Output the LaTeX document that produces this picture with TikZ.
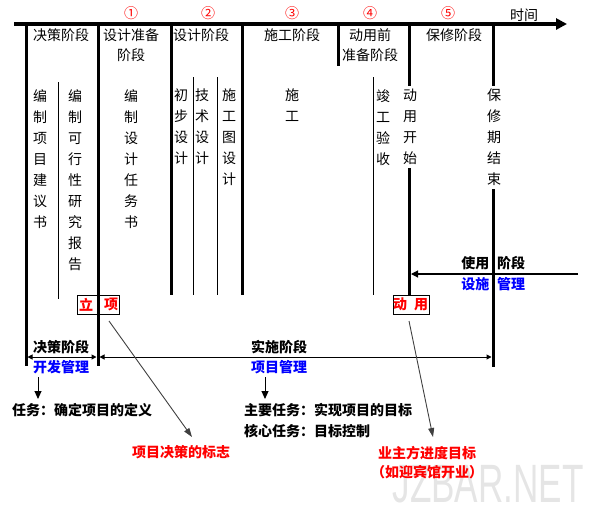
\documentclass[tikz,border=0pt]{standalone}
\usepackage{fontspec}
\setmainfont{Noto Sans CJK SC}
\newfontfamily\wmfont{Liberation Sans}
\usetikzlibrary{arrows.meta}
\definecolor{myred}{RGB}{255,0,0}
\definecolor{myblue}{RGB}{0,0,255}
\begin{document}
\begin{tikzpicture}[x=1pt,y=-1pt,
  thickline/.style={line width=3pt},
  thinline/.style={line width=1pt},
  hdr/.style={font=\fontsize{14}{20}\selectfont, inner sep=0pt, align=center},
  vtxt/.style={font=\fontsize{14}{21}\selectfont, inner sep=0pt, align=center, anchor=north},
  num/.style={text=myred, font=\fontsize{14}{14}\selectfont, inner sep=0pt},
  lbl/.style={font=\fontsize{14}{20}\selectfont\bfseries, inner sep=0pt},
  bluelbl/.style={lbl, text=myblue},
  redlbl/.style={lbl, text=myred},
  boxnode/.style={draw, line width=1pt, fill=white, inner sep=0pt, minimum height=19pt},
  dimarrow/.style={line width=1pt, {Triangle[length=5pt,width=5pt]}-{Triangle[length=5pt,width=5pt]}},
  downarrow/.style={line width=1pt, -{Triangle[length=8pt,width=7pt]}},
  diagarrow/.style={line width=0.9pt, draw=black!75, -{Triangle[length=9pt,width=6pt]}}
]
\useasboundingbox (0,0) rectangle (599,509);

% watermark
\node[text=black!10, font=\wmfont\fontsize{54}{54}\selectfont, xscale=0.65, inner sep=0pt] (wm) at (488,484) {JZBAR.NET};

% timeline
\coordinate (tl) at (14,24);
\coordinate (tr) at (567,24);
\draw[line width=3.5pt, -{Triangle[length=11pt,width=11pt]}] (tl) -- (tr);
\node[hdr] (time) at (524,15) {时间};

% circled numbers
\node[num] (n1) at (131,13) {①};
\node[num] (n2) at (208,13) {②};
\node[num] (n3) at (292,13) {③};
\node[num] (n4) at (370,13) {④};
\node[num] (n5) at (448,13) {⑤};

% boxes (drawn before lines)
\node[boxnode, minimum width=42pt] (lx) at (98,304.5) {};
\node[redlbl] (lx1) at (86,304.5) {立};
\node[redlbl] (lx2) at (111,304.5) {项};
\node[boxnode, minimum width=36pt] (dy) at (411,304.5) {};
\node[redlbl] (dy1) at (400,304.5) {动};
\node[redlbl] (dy2) at (421,304.5) {用};

% thick verticals
\coordinate (v1a) at (26,24);  \coordinate (v1b) at (26,366);
\coordinate (v2a) at (98,24);  \coordinate (v2b) at (98,366);
\coordinate (v3a) at (171,24); \coordinate (v3b) at (171,295);
\coordinate (v4a) at (242,24); \coordinate (v4b) at (242,295);
\coordinate (v5a) at (338,24); \coordinate (v5b) at (338,66);
\coordinate (v6a) at (409.5,24); \coordinate (v6b) at (409.5,295);
\coordinate (v7a) at (493,24); \coordinate (v7b) at (493,367);
\foreach \a/\b in {v1a/v1b,v2a/v2b,v3a/v3b,v4a/v4b,v5a/v5b,v6a/v6b,v7a/v7b}
  \draw[thickline] (\a) -- (\b);

% thin verticals
\coordinate (t1a) at (58,82);  \coordinate (t1b) at (58,299);
\coordinate (t2a) at (193,77); \coordinate (t2b) at (193,295);
\coordinate (t3a) at (217,77); \coordinate (t3b) at (217,295);
\coordinate (t4a) at (373,77); \coordinate (t4b) at (373,295);
\foreach \a/\b in {t1a/t1b,t2a/t2b,t3a/t3b,t4a/t4b}
  \draw[thinline] (\a) -- (\b);

% header texts
\node[hdr] (h1) at (61,35) {决策阶段};
\node[hdr] (h2) at (131,45) {设计准备\\阶段};
\node[hdr] (h3) at (201,35) {设计阶段};
\node[hdr] (h4) at (292,35) {施工阶段};
\node[hdr] (h5) at (370,45.5) {动用前\\准备阶段};
\node[hdr] (h6) at (454,35) {保修阶段};

% vertical texts
\node[vtxt] (c1) at (40,89) {编\\制\\项\\目\\建\\议\\书};
\node[vtxt] (c2) at (75,89) {编\\制\\可\\行\\性\\研\\究\\报\\告};
\node[vtxt] (c3) at (131,89) {编\\制\\设\\计\\任\\务\\书};
\node[vtxt] (c4) at (181,89) {初\\步\\设\\计};
\node[vtxt] (c5) at (202,89) {技\\术\\设\\计};
\node[vtxt] (c6) at (229,89) {施\\工\\图\\设\\计};
\node[vtxt] (c7) at (292,89) {施\\工};
\node[vtxt] (c8) at (383,89) {竣\\工\\验\\收};
\node[vtxt, fill=white, inner ysep=3pt] (c9) at (410,86) {动\\用\\开\\始};
\node[vtxt, fill=white, inner ysep=3pt] (c10) at (494,86) {保\\修\\期\\结\\束};

% use phase arrow
\coordinate (ua) at (578,274);
\coordinate (ub) at (411,274);
\draw[line width=1.2pt, -{Triangle[length=7pt,width=7pt]}] (ua) -- (ub);
\node[lbl, anchor=east] (u1) at (489.5,263) {使用};
\node[lbl, anchor=west] (u2) at (497,263) {阶段};
\node[bluelbl, anchor=east] (u3) at (489.5,284) {设施};
\node[bluelbl, anchor=west] (u4) at (497,284) {管理};

% dimension lines
\coordinate (d1) at (27.5,357);
\coordinate (d2) at (96.5,357);
\coordinate (d3) at (99.5,357);
\coordinate (d4) at (491.5,357);
\draw[dimarrow] (d1) -- (d2);
\draw[dimarrow] (d3) -- (d4);
\node[lbl] (jc) at (61,347.5) {决策阶段};
\node[bluelbl] (kf) at (61,367.5) {开发管理};
\node[lbl] (ss) at (279,347.5) {实施阶段};
\node[bluelbl] (xm) at (279,367.5) {项目管理};

% down arrows and tasks
\coordinate (a1) at (38,377);
\coordinate (a2) at (265,377);
\node[lbl, anchor=west] (task1) at (12,410) {任务：确定项目的定义};
\node[lbl, anchor=west] (task2) at (244,410) {主要任务：实现项目的目标};
\node[lbl, anchor=west] (task3) at (244,431) {核心任务：目标控制};
\draw[downarrow] (a1) -- (38,399);
\draw[downarrow] (a2) -- (265,399);

% diagonal arrows
\coordinate (s1) at (109,321);
\coordinate (e1) at (192,437);
\coordinate (s2) at (409,321);
\coordinate (e2) at (433,437);
\draw[diagarrow] (s1) -- (e1);
\draw[diagarrow] (s2) -- (e2);
\node[redlbl] (mark) at (181,452) {项目决策的标志};
\node[redlbl, align=center, font=\fontsize{14}{19}\selectfont\bfseries] (goal) at (427,462.5) {业主方进度目标\\（如迎宾馆开业）};
\end{tikzpicture}
\end{document}
